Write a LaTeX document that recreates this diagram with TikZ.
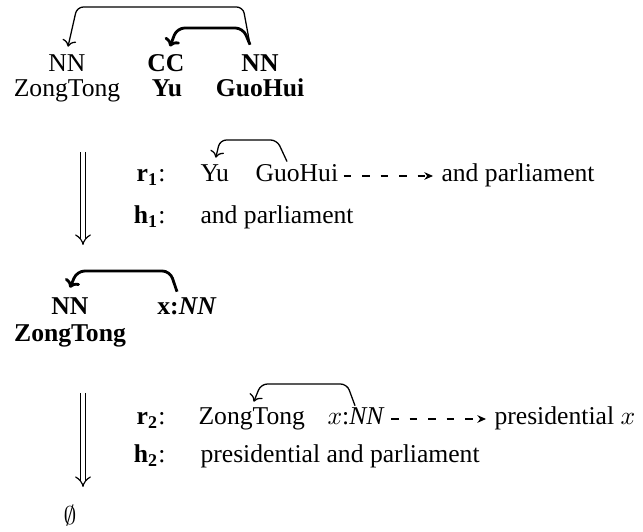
\documentclass[tikz,border=0pt]{standalone}
\usepackage{fontspec}
\setmainfont{Liberation Serif}
\usetikzlibrary{arrows.meta,calc}
\begin{document}
\begin{tikzpicture}[x=0.39pt,y=-0.39pt,
  word/.style={inner sep=0pt,anchor=base},
  lword/.style={inner sep=0pt,anchor=base west},
  rlab/.style={inner sep=0pt,anchor=base east},
  deparc/.style={line width=0.5pt,rounded corners=2.5pt,-{To[length=2.6pt]}},
  headarc/.style={line width=1.1pt,rounded corners=3pt,-{To[length=3pt]}},
  derive/.style={double,double distance=1.7pt,line width=0.45pt,-{Implies}},
  rewrite/.style={dash pattern=on 3pt off 4.2pt,line width=0.45pt,-{Stealth[length=3.4pt,width=3pt]}},
]
\useasboundingbox (0,0) rectangle (643,532);

% ---- initial tree: tags above words
\node[word] (t1) at (67,72) {NN};
\node[word] (w1) at (67,97) {ZongTong};
\node[word] (t2) at (166,72) {\textbf{CC}};
\node[word] (w2) at (167,97) {\textbf{Yu}};
\node[word] (t3) at (260,72) {\textbf{NN}};
\node[word] (w3) at (260,97) {\textbf{GuoHui}};

\draw[deparc] ($(t3.north)+(-10,-10)$) -- (243,7) -- (77,7) -- ($(t1.north)+(1,-8)$);
\draw[headarc] ($(t3.north)+(-10,-10)$) -- (243,28) -- (177,28) -- ($(t2.north)+(4,-8)$);

% ---- first derivation step
\coordinate (d1a) at (83,152);
\coordinate (d1b) at (83,245);
\draw[derive] (d1a) -- (d1b);

\node[rlab] (r1) at (166,182) {$\mathbf{r_1}$:};
\node[lword] (r1a) at (200,182) {Yu};
\node[lword] (r1b) at (255,182) {GuoHui};
\node[lword] (r1c) at (441,182) {and parliament};
\draw[deparc] ($(r1b.north west)+(32,-3)$) -- (277,140) -- (220,140) -- ($(r1a.north)+(1,-7)$);
\draw[rewrite] ($(r1b.base east)+(5,-6)$) -- ($(r1c.base west)+(-8,-6)$);

\node[rlab] (h1) at (166,224) {$\mathbf{h_1}$:};
\node[lword] (h1a) at (200,224) {and parliament};

% ---- intermediate tree
\node[word] (m1) at (70,315) {\textbf{NN}};
\node[word] (mw1) at (70,342) {\textbf{ZongTong}};
\node[word] (m2) at (187,315) {\textbf{x:\textit{NN}}};
\draw[headarc] ($(m2.north)+(-10,-6)$) -- (170,271) -- (77,271) -- ($(m1.north)+(0,-10)$);

% ---- second derivation step
\coordinate (d2a) at (83,393);
\coordinate (d2b) at (83,487);
\draw[derive] (d2a) -- (d2b);

\node[rlab] (r2) at (166,425) {$\mathbf{r_2}$:};
\node[lword] (r2a) at (198,425) {ZongTong};
\node[lword] (r2b) at (327,425) {$x$:\textit{NN}};
\node[lword] (r2c) at (494,425) {presidential $x$};
\draw[deparc] ($(r2b.north west)+(28,-2)$) -- (347,384) -- (261,384) -- ($(r2a.north)+(2,-6)$);
\draw[rewrite] ($(r2b.base east)+(6,-6)$) -- ($(r2c.base west)+(-8,-6)$);

\node[rlab] (h2) at (166,463) {$\mathbf{h_2}$:};
\node[lword] (h2a) at (200,463) {presidential and parliament};

% ---- empty result
\node[inner sep=0pt] (e) at (70,516) {$\emptyset$};
\end{tikzpicture}
\end{document}
